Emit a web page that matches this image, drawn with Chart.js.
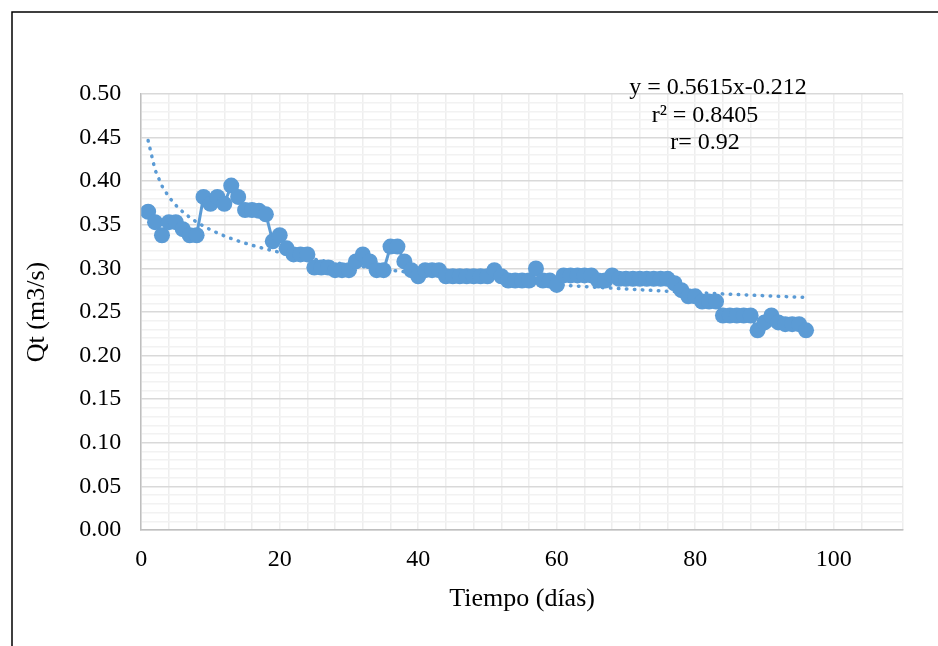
<!DOCTYPE html>
<html>
<head>
<meta charset="utf-8">
<script src="https://cdn.jsdelivr.net/npm/chart.js@4.4.1/dist/chart.umd.min.js"></script>
<style>
  html, body { margin: 0; padding: 0; background: #fff; }
  #wrap { width: 938px; height: 646px; position: relative; }
</style>
</head>
<body>
<div id="wrap"><canvas id="chart"></canvas></div>
<script>
// días 1..96
const dias = [
  1, 2, 3, 4, 5, 6, 7, 8, 9, 10, 11, 12, 13, 14, 15, 16, 17, 18, 19, 20,
  21, 22, 23, 24, 25, 26, 27, 28, 29, 30, 31, 32, 33, 34, 35, 36, 37, 38, 39, 40,
  41, 42, 43, 44, 45, 46, 47, 48, 49, 50, 51, 52, 53, 54, 55, 56, 57, 58, 59, 60,
  61, 62, 63, 64, 65, 66, 67, 68, 69, 70, 71, 72, 73, 74, 75, 76, 77, 78, 79, 80,
  81, 82, 83, 84, 85, 86, 87, 88, 89, 90, 91, 92, 93, 94, 95, 96
];
// Qt (m3/s)
const qt = [
  0.365, 0.353, 0.338, 0.353, 0.353, 0.345, 0.338, 0.338, 0.382, 0.374,
  0.382, 0.374, 0.395, 0.382, 0.367, 0.367, 0.366, 0.362, 0.331, 0.338,
  0.323, 0.316, 0.316, 0.316, 0.301, 0.301, 0.301, 0.298, 0.298, 0.298,
  0.308, 0.316, 0.308, 0.298, 0.298, 0.325, 0.325, 0.308, 0.298, 0.291,
  0.298, 0.298, 0.298, 0.291, 0.291, 0.291, 0.291, 0.291, 0.291, 0.291,
  0.298, 0.291, 0.286, 0.286, 0.286, 0.286, 0.300, 0.286, 0.286, 0.281,
  0.292, 0.292, 0.292, 0.292, 0.292, 0.286, 0.286, 0.292, 0.288, 0.288,
  0.288, 0.288, 0.288, 0.288, 0.288, 0.288, 0.283, 0.275, 0.268, 0.268,
  0.262, 0.262, 0.262, 0.246, 0.246, 0.246, 0.246, 0.246, 0.229, 0.238,
  0.246, 0.238, 0.236, 0.236, 0.236, 0.229
];
const etiquetas = ['y = 0.5615x-0.212', 'r² = 0.8405', 'r= 0.92'];

const azul = '#5b9bd5';

// línea de tendencia potencial (mínimos cuadrados en ln-ln, como Excel)
function tendenciaPotencial(xs, ys) {
  const n = xs.length;
  let sx = 0, sy = 0, sxx = 0, sxy = 0;
  for (let i = 0; i < n; i++) {
    const lx = Math.log(xs[i]), ly = Math.log(ys[i]);
    sx += lx; sy += ly; sxx += lx * lx; sxy += lx * ly;
  }
  const b = (n * sxy - sx * sy) / (n * sxx - sx * sx);
  const a = Math.exp((sy - b * sx) / n);
  return xs.map(x => ({ x: x, y: a * Math.pow(x, b) }));
}

const puntos = dias.map((d, i) => ({ x: d, y: qt[i] }));
const tendencia = tendenciaPotencial(dias, qt);

const marco = {
  id: 'marco',
  afterDraw(chart) {
    const ctx = chart.ctx;
    ctx.save();
    ctx.strokeStyle = '#000';
    ctx.lineWidth = 1.5;
    ctx.beginPath();
    ctx.moveTo(12, 646);
    ctx.lineTo(12, 12);
    ctx.lineTo(938, 12);
    ctx.stroke();
    // texto de la ecuación
    ctx.fillStyle = '#000';
    ctx.font = '24px "Liberation Serif", "Times New Roman", serif';
    ctx.textAlign = 'center';
    ctx.textBaseline = 'middle';
    ctx.fillText(etiquetas[0], 718, 88);
    ctx.fillText(etiquetas[1], 705, 116);
    ctx.fillText(etiquetas[2], 705, 143);
    ctx.restore();
  }
};

const serif = '"Liberation Serif", "Times New Roman", serif';

new Chart(document.getElementById('chart'), {
  type: 'scatter',
  data: {
    datasets: [
      {
        label: 'Qt',
        data: puntos,
        showLine: true,
        borderColor: azul,
        backgroundColor: azul,
        borderWidth: 3,
        pointRadius: 8,
        pointHoverRadius: 8,
        pointBorderWidth: 0,
        order: 1
      },
      {
        label: 'Tendencia',
        data: tendencia,
        showLine: true,
        borderColor: azul,
        borderWidth: 3.5,
        borderDash: [0.5, 7.5],
        borderCapStyle: 'round',
        pointRadius: 0,
        order: 2
      }
    ]
  },
  options: {
    responsive: true,
    maintainAspectRatio: false,
    animation: false,
    layout: { padding: { left: 22, right: 35, top: 94, bottom: 31 } },
    plugins: {
      legend: { display: false },
      tooltip: { enabled: false }
    },
    scales: {
      x: {
        type: 'linear',
        min: 0,
        max: 110,
        border: { color: '#bfbfbf', width: 1.5 },
        grid: { color: '#eeeeee', drawTicks: false, lineWidth: 1.5 },
        ticks: {
          stepSize: 4,
          autoSkip: false,
          maxRotation: 0,
          padding: 15,
          color: '#000',
          font: { family: serif, size: 24 },
          callback: v => (v % 20 === 0 ? String(v) : '')
        },
        title: {
          display: true,
          text: 'Tiempo (días)',
          color: '#000',
          font: { family: serif, size: 26 },
          padding: { top: -5, bottom: 0 }
        }
      },
      y: {
        min: 0,
        max: 0.5,
        border: { color: '#bfbfbf', width: 1.5 },
        grid: {
          drawTicks: false,
          lineWidth: 1.5,
          color: c => (Math.round(c.tick.value * 100) % 5 === 0 ? '#d9d9d9' : '#f2f2f2')
        },
        ticks: {
          stepSize: 0.01,
          autoSkip: false,
          padding: 20,
          color: '#000',
          font: { family: serif, size: 24 },
          callback: v => (Math.round(v * 100) % 5 === 0 ? v.toFixed(2) : '')
        },
        title: {
          display: true,
          text: 'Qt (m3/s)',
          color: '#000',
          font: { family: serif, size: 26 },
          padding: { top: 0, bottom: 6 }
        }
      }
    }
  },
  plugins: [marco]
});
</script>
</body>
</html>
